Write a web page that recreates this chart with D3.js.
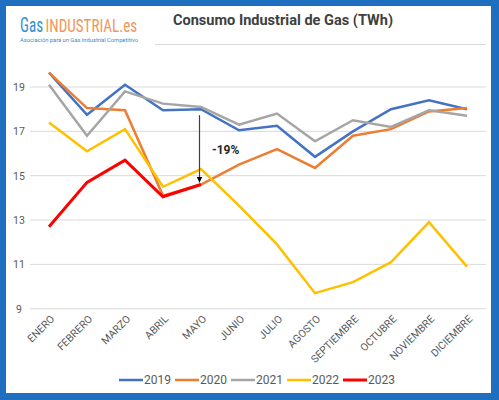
<!DOCTYPE html>
<html><head><meta charset="utf-8">
<script src="https://cdn.jsdelivr.net/npm/d3@7"></script>
<style>
html,body{margin:0;padding:0;background:#fff;}
svg{display:block;font-family:Roboto, "Liberation Sans", sans-serif;}
</style></head>
<body><svg id="c" width="499" height="400"></svg>
<script>
const months = ["ENERO","FEBRERO","MARZO","ABRIL","MAYO","JUNIO","JULIO","AGOSTO","SEPTIEMBRE","OCTUBRE","NOVIEMBRE","DICIEMBRE"];
const years = ["2019","2020","2021","2022","2023"];
const colors = ["#4472C4","#ED7D31","#A5A5A5","#FFC000","#FF0000"];
const v2019 = [19.65,17.75,19.1,17.95,18.0,17.05,17.25,15.85,17.0,18.0,18.4,18.0];
const v2020 = [19.65,18.05,17.95,14.1,14.6,15.5,16.2,15.35,16.8,17.1,17.9,18.05];
const v2021 = [19.1,16.8,18.8,18.25,18.1,17.3,17.8,16.55,17.5,17.2,17.95,17.7];
const v2022 = [17.4,16.1,17.1,14.5,15.3,13.65,11.9,9.7,10.2,11.1,12.9,10.9];
const v2023 = [12.7,14.7,15.7,14.05,14.6];
const yTicks = [9,11,13,15,17,19];
const series = [v2019,v2020,v2021,v2022,v2023];

const svg = d3.select("#c");
// frame
svg.append("rect").attr("x",0).attr("y",0).attr("width",499).attr("height",400).attr("fill","#1f6fc0");
svg.append("rect").attr("x",6).attr("y",6).attr("width",485).attr("height",387).attr("fill","#fff");

// logo
const nf = "'Liberation Sans Narrow','Roboto Condensed',Roboto,sans-serif";
svg.append("g").attr("transform","translate(20,32) scale(0.72,1)")
  .append("text").attr("font-family",nf).attr("font-size",21).attr("fill","#2f8fd0").text("Gas");
svg.append("g").attr("transform","translate(45.5,32) scale(0.84,1)")
  .append("text").attr("font-family",nf).attr("font-size",18).attr("fill","#f0965a").text("INDUSTRIAL.es");
svg.append("text").attr("x",20).attr("y",42).attr("font-size",5.6).attr("fill","#2f8fd0").attr("textLength",118).attr("lengthAdjust","spacingAndGlyphs").text("Asociación para un Gas Industrial Competitivo");

// title
svg.append("text").attr("x",283).attr("y",25).attr("text-anchor","middle").attr("font-size",14.5).attr("font-weight","bold").attr("fill","#404040").attr("textLength",220).attr("lengthAdjust","spacingAndGlyphs").text("Consumo Industrial de Gas (TWh)");
svg.append("line").attr("x1",155).attr("x2",486).attr("y1",44.5).attr("y2",44.5).attr("stroke","#d9d9d9").attr("stroke-width",1);

const x = d3.scalePoint().domain(months).range([49,467]);
const y = d3.scaleLinear().domain([9,19]).range([308.7,87]);

// grid
svg.append("g").selectAll("line").data(yTicks).join("line")
  .attr("x1",30).attr("x2",486).attr("y1",d=>y(d)).attr("y2",d=>y(d))
  .attr("stroke","#d9d9d9").attr("stroke-width",1);

// y axis labels
const ya = svg.append("g").attr("transform","translate(26,0)").call(d3.axisLeft(y).tickValues(yTicks).tickSize(0).tickPadding(4).tickFormat(d3.format("d")));
ya.select(".domain").remove();
ya.selectAll("text").attr("font-size",10.5).attr("fill","#595959").attr("font-family","Roboto, sans-serif").attr("text-anchor","middle").attr("dx",-3);

// x axis labels
const xa = svg.append("g").attr("transform","translate(0,314)").call(d3.axisBottom(x).tickSize(0).tickPadding(0));
xa.select(".domain").remove();
xa.selectAll("text").attr("font-size",10.5).attr("fill","#595959").attr("font-family","'Liberation Sans Narrow', Roboto, sans-serif")
  .attr("text-anchor","end").attr("dy","0.35em").attr("transform","translate(3,3) rotate(-45)");

// lines
const line = d3.line().x((d,i)=>x(months[i])).y(d=>y(d));
svg.append("g").selectAll("path").data(series).join("path")
  .attr("d",d=>line(d)).attr("fill","none")
  .attr("stroke",(d,i)=>colors[i]).attr("stroke-width",(d,i)=>i===4?3:2.5)
  .attr("stroke-linejoin","miter");

// annotation arrow
const ax = x("MAYO") - 1.5;
svg.append("defs").append("marker").attr("id","arr").attr("viewBox","0 0 10 10").attr("refX",10).attr("refY",5)
  .attr("markerWidth",6).attr("markerHeight",6).attr("markerUnits","userSpaceOnUse").attr("orient","auto")
  .append("path").attr("d","M0,0L10,5L0,10z").attr("fill","#000");
svg.append("line").attr("x1",ax).attr("x2",ax).attr("y1",y(18.0)+6).attr("y2",y(14.6)-2)
  .attr("stroke","#404040").attr("stroke-width",1.2).attr("marker-end","url(#arr)");
svg.append("text").attr("x",212).attr("y",154).attr("font-size",12).attr("font-weight","bold").attr("fill","#262626").text("-19%");

// legend
const lg = svg.append("g").selectAll("g").data(years).join("g").attr("transform",(d,i)=>`translate(${119+i*56},380)`);
lg.append("line").attr("x1",0).attr("x2",24).attr("y1",0).attr("y2",0).attr("stroke",(d,i)=>colors[i]).attr("stroke-width",(d,i)=>i===4?3:2.5);
lg.append("text").attr("x",25).attr("y",0).attr("dy","0.35em").attr("font-size",12).attr("font-family","'Liberation Sans Narrow', Roboto, sans-serif").attr("fill","#595959").text(d=>d);
</script></body></html>
